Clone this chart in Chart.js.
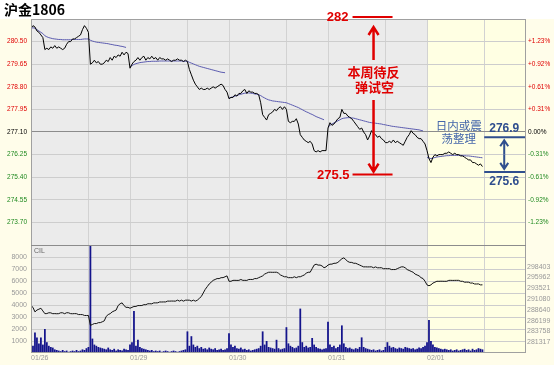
<!DOCTYPE html>
<html>
<head>
<meta charset="utf-8">
<script src="https://cdn.jsdelivr.net/npm/chart.js@4.4.1/dist/chart.umd.min.js"></script>
<style>
  html, body { margin: 0; padding: 0; background: #fff; }
  #wrap { width: 554px; height: 365px; position: relative; }
</style>
</head>
<body>
<div id="wrap"><canvas id="chart" width="554" height="365"></canvas></div>
<script>
// time slots: 50 per trading day (night session 29 + day session 21)
const dayLabels = ['01/26', '01/29', '01/30', '01/31', '02/01'];
const dayStarts = [0, 50, 100, 150, 200];
const sessionSplits = [29, 79, 129, 179, 229];
const slotsTotal = 250;

const prevClose = 277.10;
const priceTicks = [273.70, 274.55, 275.40, 276.25, 277.10, 277.95, 278.80, 279.65, 280.50];
const pctLabels = ['-1.23%', '-0.92%', '-0.61%', '-0.31%', '0.00%', '+0.31%', '+0.61%', '+0.92%', '+1.23%'];
const volTicks = [1000, 2000, 3000, 4000, 5000, 6000, 7000, 8000];
const oiTicks = [281317, 283758, 286199, 288640, 291080, 293521, 295962, 298403];

const priceValues = [
  281.00, 281.10, 281.05, 280.90, 280.85, 280.75, 280.65, 280.20, 280.25, 280.20,
  280.30, 280.25, 280.35, 280.25, 280.30, 280.25, 280.20, 280.25, 280.40, 280.50,
  280.50, 280.60, 280.60, 280.65, 280.70, 280.75, 280.95, 281.10, 281.00, 280.85,
  279.65, 279.70, 279.80, 279.70, 279.75, 279.65, 279.65, 279.70, 279.80, 279.75,
  279.90, 279.80, 279.95, 279.90, 280.00, 279.95, 280.10, 280.00, 280.10, 280.05,
  279.50, 279.65, 279.75, 279.80, 279.90, 279.80, 279.90, 279.95, 279.80, 279.90,
  279.85, 279.95, 279.85, 279.90, 279.80, 279.90, 279.85, 279.85, 279.80, 279.85,
  279.80, 279.75, 279.80, 279.80, 279.85, 279.80, 279.80, 279.75, 279.80, 279.75,
  279.45, 279.25, 279.05, 278.90, 278.80, 278.70, 278.75, 278.70, 278.70, 278.75,
  278.70, 278.75, 278.80, 278.75, 278.80, 278.85, 278.90, 278.85, 278.70, 278.60,
  278.35, 278.40, 278.40, 278.50, 278.45, 278.55, 278.55, 278.65, 278.70, 278.55,
  278.65, 278.60, 278.60, 278.55, 278.55, 278.50, 278.20, 277.75, 277.65, 277.55,
  277.75, 277.80, 277.85, 277.95, 277.90, 278.00, 278.05, 277.95, 278.05, 277.95,
  277.50, 277.45, 277.50, 277.50, 277.60, 277.40, 277.00, 276.90, 276.80, 276.75,
  276.70, 276.75, 276.65, 276.40, 276.35, 276.40, 276.35, 276.40, 276.40, 276.40,
  277.25, 277.45, 277.35, 277.40, 277.50, 277.60, 277.65, 277.95, 277.80, 277.80,
  277.70, 277.65, 277.60, 277.50, 277.40, 277.30, 277.20, 277.25, 277.10, 277.00,
  276.80, 276.95, 277.15, 277.05, 277.00, 276.90, 276.95, 276.85, 276.80, 276.70,
  276.70, 276.75, 276.70, 276.80, 276.70, 276.75, 276.70, 276.65, 276.60, 276.75,
  276.90, 277.00, 277.15, 277.05, 277.00, 276.90, 276.85, 276.85, 276.75, 276.65,
  276.40, 276.10, 275.95, 276.15, 276.25, 276.20, 276.25, 276.25, 276.25, 276.30,
  276.30, 276.35, 276.30, 276.25, 276.30, 276.25, 276.25, 276.20, 276.20, 276.15,
  276.10, 276.05, 276.05, 275.95, 275.95, 275.90, 275.85, 275.90, 275.80
];

// intraday average price, restarts every trading day
const avgValues = [
  281.00, 281.02, 281.00, 280.95, 280.90, 280.85, 280.80, 280.72, 280.68, 280.65,
  280.63, 280.61, 280.60, 280.59, 280.58, 280.58, 280.57, 280.57, 280.57, 280.57,
  280.57, 280.58, 280.58, 280.58, 280.58, 280.58, 280.59, 280.60, 280.60, 280.60,
  280.55, 280.52, 280.50, 280.48, 280.47, 280.46, 280.45, 280.44, 280.43, 280.42,
  280.40, 280.39, 280.37, 280.36, 280.35, 280.33, 280.32, 280.30, 280.28, null,
  279.55, 279.60, 279.64, 279.67, 279.69, 279.71, 279.72, 279.73, 279.74, 279.75,
  279.75, 279.76, 279.76, 279.76, 279.76, 279.77, 279.77, 279.77, 279.77, 279.77,
  279.77, 279.77, 279.77, 279.77, 279.77, 279.77, 279.77, 279.76, 279.76, 279.76,
  279.72, 279.69, 279.66, 279.63, 279.60, 279.57, 279.55, 279.53, 279.51, 279.49,
  279.47, 279.45, 279.43, 279.41, 279.39, 279.37, 279.35, 279.34, 279.33, null,
  278.38, 278.40, 278.42, 278.45, 278.47, 278.50, 278.52, 278.54, 278.56, 278.57,
  278.57, 278.56, 278.55, 278.53, 278.52, 278.50, 278.47, 278.42, 278.38, 278.34,
  278.31, 278.29, 278.27, 278.26, 278.25, 278.24, 278.23, 278.22, 278.21, 278.20,
  278.17, 278.14, 278.11, 278.08, 278.05, 278.02, 277.98, 277.94, 277.90, 277.86,
  277.83, 277.79, 277.76, 277.72, 277.68, 277.65, 277.62, 277.59, 277.56, null,
  277.28, 277.35, 277.40, 277.44, 277.48, 277.52, 277.56, 277.60, 277.62, 277.63,
  277.64, 277.64, 277.63, 277.62, 277.60, 277.58, 277.56, 277.54, 277.52, 277.50,
  277.48, 277.46, 277.45, 277.44, 277.43, 277.42, 277.41, 277.40, 277.38, 277.37,
  277.35, 277.34, 277.32, 277.31, 277.30, 277.29, 277.28, 277.27, 277.26, 277.25,
  277.24, 277.23, 277.22, 277.21, 277.20, 277.19, 277.18, 277.16, 277.14, null,
  276.15, 276.12, 276.10, 276.12, 276.14, 276.16, 276.17, 276.18, 276.19, 276.20,
  276.21, 276.21, 276.22, 276.22, 276.22, 276.22, 276.22, 276.22, 276.21, 276.21,
  276.20, 276.20, 276.19, 276.18, 276.17, 276.16, 276.15, 276.14, 276.13
];

// open interest (right axis of lower panel)
const oiValues = [
  289600, 289190, 288170, 288580, 288780, 288990, 288380, 287770, 287790, 287970,
  287950, 287760, 287780, 287750, 287770, 287970, 287960, 287760, 287980, 287960,
  287770, 287750, 287780, 287760, 287560, 287570, 287550, 287360, 287350, 287360,
  285120, 285320, 285530, 285520, 285730, 285740, 285930, 286140, 287160, 287560,
  287770, 288170, 288380, 288580, 289600, 290000, 290210, 289590, 289190, 289200,
  288990, 289190, 289390, 289400, 289600, 289590, 289610, 289800, 289790, 290000,
  290010, 289990, 290210, 290200, 290220, 290410, 290400, 290420, 290410, 290610,
  290600, 290620, 290610, 290600, 290820, 290610, 290820, 290600, 290810, 290820,
  290810, 290620, 290820, 290600, 290810, 291220, 291630, 292440, 293260, 293870,
  294480, 294880, 295290, 295490, 295700, 295690, 295900, 295910, 296100, 296310,
  295090, 295080, 295290, 295300, 295280, 295290, 295490, 295290, 295300, 295280,
  295490, 295500, 295490, 295700, 295690, 295900, 296100, 296310, 296710, 296920,
  297120, 297130, 297110, 297120, 297130, 296920, 296510, 296310, 296100, 296110,
  295900, 295910, 295890, 296100, 295900, 296110, 296100, 296310, 296510, 296920,
  297120, 297130, 297940, 298750, 298950, 298740, 298750, 298550, 298140, 298340,
  298750, 298950, 298960, 299150, 299160, 299360, 299770, 300170, 300380, 299970,
  299560, 299360, 299350, 299160, 299150, 298950, 298750, 298540, 298340, 298350,
  298330, 298340, 298350, 298140, 298340, 298130, 298140, 298150, 297930, 297940,
  297930, 297940, 297730, 297740, 297730, 297940, 298140, 298340, 298350, 298130,
  297730, 297530, 297320, 297120, 296710, 296510, 296310, 295900, 295700, 295090,
  294270, 294070, 294280, 294680, 294880, 295090, 295080, 295100, 295090, 295080,
  295090, 295290, 295300, 295280, 295290, 295300, 295290, 295090, 295080, 294880,
  294890, 294870, 294680, 294690, 294480, 294470, 294490, 294270, 294280
];

const volValues = [
  2200, 600, 1700, 1300, 800, 1300, 700, 2000, 900, 600,
  500, 450, 300, 250, 200, 150, 250, 150, 200, 100,
  150, 200, 150, 250, 150, 200, 300, 250, 400, 500,
  9000, 1200, 700, 600, 500, 450, 400, 350, 300, 450,
  300, 250, 350, 200, 300, 250, 200, 350, 300, 250,
  700, 900, 3500, 600, 1100, 500, 400, 350, 300, 250,
  200, 250, 150, 200, 150, 200, 100, 150, 200, 150,
  100, 150, 200, 150, 100, 150, 200, 250, 300, 1800,
  600, 1400, 700, 500, 600, 400, 500, 350, 400, 300,
  450, 350, 300, 400, 250, 300, 350, 250, 300, 400,
  1650, 700, 500, 600, 400, 350, 450, 300, 350, 250,
  300, 200, 250, 300, 350, 400, 600, 1800, 700, 1000,
  500, 450, 400, 350, 1100, 400, 300, 350, 400, 2150,
  800, 600, 500, 400, 450, 600, 3700, 900, 500, 600,
  450, 500, 1250, 700, 500, 400, 350, 300, 350, 400,
  2600, 700, 500, 600, 400, 500, 700, 2300, 800, 500,
  400, 450, 350, 300, 400, 350, 500, 1300, 500, 400,
  350, 300, 250, 300, 200, 250, 300, 200, 250, 500,
  900, 600, 450, 500, 400, 350, 450, 400, 350, 500,
  450, 400, 350, 400, 300, 350, 450, 400, 500, 600,
  900, 2750, 1000, 700, 500, 450, 400, 350, 300, 350,
  300, 250, 300, 200, 250, 300, 200, 250, 300, 350,
  250, 300, 200, 350, 250, 300, 400, 350, 300
];

// annotation levels
const weekTarget = { high: 282, low: 275.5, slot: 173 };
const dayRange = { high: 276.9, low: 275.6, slot: 239 };

const FONT = '"Liberation Sans", Arial, sans-serif';
const CJK = '"Noto Sans CJK SC", "Liberation Sans", sans-serif';
const RED = '#e00000';
const GREEN = '#208a20';

const priceStep = priceTicks[1] - priceTicks[0];
const volStep = volTicks[1] - volTicks[0];
const oiStep = (oiTicks[oiTicks.length - 1] - oiTicks[0]) / (oiTicks.length - 1);
const labels = priceValues.map((v, i) => i);

function priceColor(c) {
    const v = c.tick.value;
    if (v > prevClose + 1e-6) return RED;
    if (v < prevClose - 1e-6) return GREEN;
    return '#000';
}

const frame = {
    id: 'frame',
    beforeDraw(chart) {
        const { ctx, chartArea: a, scales: { x } } = chart;
        const todayX = x.getPixelForValue(dayStarts[dayStarts.length - 1]);
        ctx.save();
        ctx.fillStyle = '#fffdea';
        ctx.fillRect(0, 0, chart.width, chart.height);
        ctx.fillStyle = '#ffffff';
        ctx.fillRect(0, 0, chart.width, a.top);
        ctx.fillStyle = '#ebebeb';
        ctx.fillRect(a.left, a.top, todayX - a.left, a.bottom - a.top);
        ctx.fillStyle = '#ffffe3';
        ctx.fillRect(todayX, a.top, a.right - todayX, a.bottom - a.top);
        ctx.fillStyle = '#000';
        ctx.font = 'bold 14px ' + CJK;
        ctx.textBaseline = 'middle';
        ctx.fillText('沪金1806', 4, 10);
        ctx.restore();
    },
    afterDatasetsDraw(chart) {
        const { ctx, chartArea: a, scales: { x, price, vol } } = chart;
        ctx.save();
        ctx.strokeStyle = '#a0a0a0';
        ctx.lineWidth = 1;
        ctx.strokeRect(a.left + 0.5, a.top + 0.5, a.right - a.left - 1, a.bottom - a.top - 1);
        ctx.strokeStyle = '#8c8c8c';
        ctx.beginPath();
        ctx.moveTo(a.left, Math.round(vol.top) + 0.5);
        ctx.lineTo(a.right, Math.round(vol.top) + 0.5);
        ctx.stroke();
        ctx.fillStyle = '#666';
        ctx.font = '7px ' + FONT;
        ctx.textBaseline = 'middle';
        ctx.fillText('CIL', a.left + 3, vol.top + 6);

        // weekly view (red)
        const rx = x.getPixelForValue(weekTarget.slot);
        const hiY = a.top - 2;
        const loY = price.getPixelForValue(weekTarget.low);
        ctx.strokeStyle = RED;
        ctx.fillStyle = RED;
        ctx.lineWidth = 2;
        ctx.beginPath();
        ctx.moveTo(rx - 21, hiY); ctx.lineTo(rx + 19, hiY);
        ctx.moveTo(rx - 21, loY); ctx.lineTo(rx + 19, loY);
        ctx.stroke();
        ctx.lineWidth = 2.5;
        arrow(ctx, rx, a.top + 41, a.top + 8, 5, 8);
        arrow(ctx, rx, a.top + 81, loY - 3, 5, 8);
        ctx.font = 'bold 13px ' + FONT;
        ctx.textAlign = 'right';
        ctx.fillText('282', rx - 25, hiY);
        ctx.fillText('275.5', rx - 24, loY + 1);
        ctx.textAlign = 'center';
        ctx.font = 'bold 13px ' + CJK;
        ctx.fillText('本周待反', rx, a.top + 53);
        ctx.fillText('弹试空', rx + 1, a.top + 68);

        // intraday view (blue)
        const bx = x.getPixelForValue(dayRange.slot);
        const tx = x.getPixelForValue(dayRange.slot - 23);
        const upY = price.getPixelForValue(dayRange.high);
        const dnY = price.getPixelForValue(dayRange.low);
        ctx.strokeStyle = '#2f4e8e';
        ctx.fillStyle = '#2f4e8e';
        ctx.lineWidth = 2;
        ctx.beginPath();
        ctx.moveTo(bx - 20, upY); ctx.lineTo(a.right - 1, upY);
        ctx.moveTo(bx - 20, dnY); ctx.lineTo(a.right - 1, dnY);
        ctx.stroke();
        arrow(ctx, bx, (upY + dnY) / 2, upY + 3, 4, 6);
        arrow(ctx, bx, (upY + dnY) / 2, dnY - 3, 4, 6);
        ctx.font = 'bold 12px ' + FONT;
        ctx.fillText('276.9', bx, upY - 9);
        ctx.fillText('275.6', bx, dnY + 10);
        ctx.fillStyle = '#4466aa';
        ctx.font = '11.5px ' + CJK;
        ctx.fillText('日内或震', tx, upY - 12);
        ctx.fillText('荡整理', tx, upY + 1);
        ctx.restore();
    }
};

function arrow(ctx, x, y1, y2, hw, hh) {
    const d = y2 > y1 ? -1 : 1;
    ctx.beginPath();
    ctx.moveTo(x, y1);
    ctx.lineTo(x, y2);
    ctx.moveTo(x - hw, y2 + d * hh);
    ctx.lineTo(x, y2);
    ctx.lineTo(x + hw, y2 + d * hh);
    ctx.stroke();
}

const ctx = document.getElementById('chart').getContext('2d');

new Chart(ctx, {
    type: 'line',
    data: {
        labels: labels,
        datasets: [{
            label: 'price',
            data: priceValues,
            yAxisID: 'price',
            borderColor: '#000',
            borderWidth: 1,
            pointRadius: 0,
            tension: 0
        }, {
            label: 'avg',
            data: avgValues,
            yAxisID: 'price',
            borderColor: '#5c5cb0',
            borderWidth: 1,
            pointRadius: 0,
            spanGaps: false,
            tension: 0
        }, {
            label: 'oi',
            data: oiValues,
            yAxisID: 'oi',
            borderColor: '#111',
            borderWidth: 1,
            pointRadius: 0,
            tension: 0
        }, {
            type: 'bar',
            label: 'volume',
            data: volValues,
            yAxisID: 'vol',
            backgroundColor: '#14148c',
            barPercentage: 0.9,
            categoryPercentage: 1
        }]
    },
    options: {
        responsive: false,
        animation: false,
        events: [],
        layout: { padding: { top: 19, left: 0, right: 0, bottom: 0 } },
        plugins: { legend: { display: false }, tooltip: { enabled: false } },
        scales: {
            x: {
                type: 'linear',
                min: 0,
                max: slotsTotal,
                offset: false,
                afterBuildTicks: s => { s.ticks = dayStarts.concat(sessionSplits).sort((a, b) => a - b).map(v => ({ value: v })); },
                afterFit: s => { s.height = 12; },
                ticks: {
                    autoSkip: false,
                    maxRotation: 0,
                    align: 'start',
                    padding: 1,
                    color: '#999',
                    font: { family: FONT, size: 7 },
                    callback: v => { const i = dayStarts.indexOf(v); return i >= 0 ? dayLabels[i] : ''; }
                },
                grid: { color: '#d2d2d2', drawTicks: false, offset: false },
                border: { display: false }
            },
            price: {
                type: 'linear',
                position: 'left',
                stack: 'left',
                stackWeight: 226,
                weight: 1,
                min: priceTicks[0] - priceStep,
                max: priceTicks[priceTicks.length - 1] + priceStep,
                afterBuildTicks: s => { s.ticks = priceTicks.map(v => ({ value: v })); },
                afterFit: s => { s.width = 31; },
                ticks: {
                    autoSkip: false,
                    padding: 4,
                    color: priceColor,
                    font: { family: FONT, size: 6.5 },
                    callback: v => v.toFixed(2)
                },
                grid: {
                    drawTicks: false,
                    color: c => Math.abs(c.tick.value - prevClose) < 1e-6 ? '#8c8c8c' : '#cdcdcd'
                },
                border: { display: false }
            },
            vol: {
                type: 'linear',
                position: 'left',
                stack: 'left',
                stackWeight: 108,
                weight: 0,
                min: 0,
                max: volTicks[volTicks.length - 1] + volStep,
                afterBuildTicks: s => { s.ticks = volTicks.map(v => ({ value: v })); },
                afterFit: s => { s.width = 31; },
                ticks: {
                    autoSkip: false,
                    padding: 4,
                    color: '#999',
                    font: { family: FONT, size: 7 },
                    callback: v => String(v)
                },
                grid: { drawTicks: false, color: '#cdcdcd' },
                border: { display: false }
            },
            pct: {
                type: 'linear',
                position: 'right',
                stack: 'right',
                stackWeight: 226,
                weight: 0,
                min: priceTicks[0] - priceStep,
                max: priceTicks[priceTicks.length - 1] + priceStep,
                afterBuildTicks: s => { s.ticks = priceTicks.map(v => ({ value: v })); },
                afterFit: s => { s.width = 28; },
                ticks: {
                    autoSkip: false,
                    padding: 2,
                    color: priceColor,
                    font: { family: FONT, size: 6.5 },
                    callback: (v, i) => pctLabels[i]
                },
                grid: { display: false, drawTicks: false },
                border: { display: false }
            },
            oi: {
                type: 'linear',
                position: 'right',
                stack: 'right',
                stackWeight: 108,
                weight: 1,
                min: oiTicks[0] - oiStep,
                max: oiTicks[0] + (oiTicks.length + 1) * oiStep,
                afterBuildTicks: s => { s.ticks = oiTicks.map(v => ({ value: v })); },
                afterFit: s => { s.width = 28; },
                ticks: {
                    autoSkip: false,
                    padding: 1,
                    color: '#999',
                    font: { family: FONT, size: 7 },
                    callback: v => String(v)
                },
                grid: { display: false, drawTicks: false },
                border: { display: false }
            }
        }
    },
    plugins: [frame]
});
</script>
</body>
</html>
